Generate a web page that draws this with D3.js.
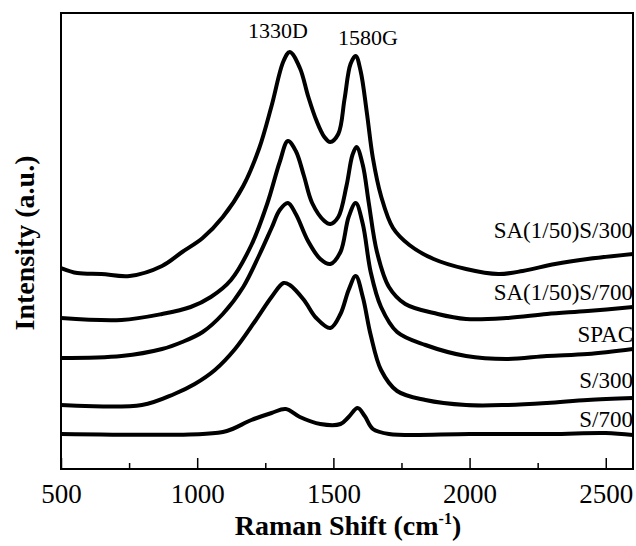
<!DOCTYPE html>
<html>
<head>
<meta charset="utf-8">
<script src="https://cdn.jsdelivr.net/npm/d3@7"></script>
<style>
  html, body { margin: 0; padding: 0; background: #fff; }
  svg { display: block; }
  text { font-family: "Liberation Serif", "Times New Roman", "DejaVu Serif", serif; fill: #000; }
</style>
</head>
<body>
<svg id="chart" width="636" height="546"></svg>
<script>
// ---- data (Raman shift in cm-1, intensity in a.u.) ----
const seriesNames = ["SA(1/50)S/300", "SA(1/50)S/700", "SPAC", "S/300", "S/700"];

const sa300 = [[500,201],[560,196],[648,195],[752,193],[871,203],[945,217],[1020,231],[1094,252],[1169,283],[1228,321],[1273,363],[1317,408],[1340,417],[1377,401],[1407,373],[1437,349],[1467,332],[1488,327],[1518,335],[1541,370],[1563,405],[1582,413],[1600,398],[1623,356],[1645,311],[1675,273],[1719,241],[1779,224],[1868,210],[1987,200],[2106,195],[2195,198],[2314,205],[2433,210],[2600,215]];
const sa700 = [[500,151],[722,149],[871,155],[976,162],[1050,172],[1124,189],[1199,224],[1258,266],[1303,307],[1333,328],[1362,318],[1392,293],[1422,266],[1467,248],[1489,245],[1518,252],[1548,283],[1570,314],[1585,322],[1608,304],[1630,266],[1660,217],[1704,182],[1764,165],[1883,155],[1987,150],[2136,151],[2284,155],[2433,158],[2600,162]];
const spac = [[500,111],[722,113],[871,120],[945,127],[1020,137],[1094,155],[1169,182],[1228,214],[1273,241],[1303,259],[1333,266],[1362,255],[1407,228],[1452,210],[1489,205],[1526,217],[1556,252],[1582,266],[1608,245],[1637,197],[1675,162],[1734,137],[1838,124],[1987,113],[2136,110],[2284,113],[2433,115],[2600,120]];
const s300 = [[500,64],[797,64],[916,75],[991,85],[1065,99],[1139,120],[1213,148],[1273,172],[1317,186],[1340,184],[1392,169],[1437,151],[1489,141],[1526,155],[1556,179],[1582,193],[1608,172],[1637,134],[1675,99],[1734,78],[1838,69],[1987,64],[2136,64],[2284,66],[2433,69],[2600,71]];
const s700 = [[500,35],[1020,35],[1109,38],[1199,49],[1273,56],[1325,60],[1377,52],[1452,45],[1526,45],[1556,52],[1589,61],[1615,53],[1645,40],[1704,35],[2000,35],[2300,35],[2500,36],[2600,34]];

const seriesData = [sa300, sa700, spac, s300, s700];
const majorTicks = [500, 1000, 1500, 2000, 2500];
const minorTicks = [750, 1250, 1750, 2250];
const peakLabels = ["1330D", "1580G"];

// ---- layout ----
const FONT = "'Liberation Serif', 'Times New Roman', 'DejaVu Serif', serif";
const svg = d3.select("#chart").attr("font-family", FONT);
const mLeft = 61, mRight = 633, mTop = 13, mBottom = 469;

const x = d3.scaleLinear().domain([500, 2600]).range([mLeft, mRight]);
const y = d3.scaleLinear().domain([0, 456]).range([mBottom, mTop]);

svg.append("defs").append("clipPath").attr("id", "clip")
  .append("rect").attr("x", mLeft).attr("y", mTop)
  .attr("width", mRight - mLeft).attr("height", mBottom - mTop);

// curves
const line = d3.line().x(d => x(d[0])).y(d => y(d[1])).curve(d3.curveCatmullRom.alpha(0.5));
svg.append("g").attr("clip-path", "url(#clip)")
  .selectAll("path").data(seriesData).join("path")
  .attr("d", line)
  .attr("fill", "none")
  .attr("stroke", "#000")
  .attr("stroke-width", 4)
  .attr("stroke-linejoin", "round");

// bottom axis, inward ticks
const axMajor = svg.append("g").attr("transform", `translate(0,${mBottom})`)
  .call(d3.axisBottom(x).tickValues(majorTicks).tickSize(-11).tickFormat(d3.format("d")));
axMajor.attr("font-family", FONT);
axMajor.select(".domain").remove();
axMajor.selectAll(".tick line").attr("stroke", "#000").attr("stroke-width", 1.5);
axMajor.selectAll(".tick text")
  .attr("y", 34).attr("dy", 0)
  .attr("font-family", FONT)
  .style("font-size", "27px");

const axMinor = svg.append("g").attr("transform", `translate(0,${mBottom})`)
  .call(d3.axisBottom(x).tickValues(minorTicks).tickSize(-6).tickFormat(""));
axMinor.select(".domain").remove();
axMinor.selectAll(".tick line").attr("stroke", "#000").attr("stroke-width", 1.5);

// frame
svg.append("rect")
  .attr("x", mLeft).attr("y", mTop)
  .attr("width", mRight - mLeft).attr("height", mBottom - mTop)
  .attr("fill", "none").attr("stroke", "#000").attr("stroke-width", 2);

// series labels (right aligned)
const labelLevels = [231, 169, 127, 81, 42];
svg.append("g").selectAll("text").data(seriesNames).join("text")
  .attr("x", 633)
  .attr("y", (d, i) => y(labelLevels[i]))
  .attr("text-anchor", "end")
  .style("font-size", "23px")
  .text(d => d);

// peak labels
const peakX = [278, 368], peakY = [38, 45];
svg.append("g").selectAll("text").data(peakLabels).join("text")
  .attr("x", (d, i) => peakX[i])
  .attr("y", (d, i) => peakY[i])
  .attr("text-anchor", "middle")
  .style("font-size", "22px")
  .text(d => d);

// axis titles
const xt = svg.append("text")
  .attr("x", 348).attr("y", 535)
  .attr("text-anchor", "middle")
  .style("font-size", "28px").style("font-weight", "bold");
xt.append("tspan").text("Raman Shift (cm");
xt.append("tspan").attr("dy", -11).style("font-size", "16px").text("-1");
xt.append("tspan").attr("dy", 11).text(")");

svg.append("text")
  .attr("transform", "translate(34,243) rotate(-90)")
  .attr("text-anchor", "middle")
  .style("font-size", "28px").style("font-weight", "bold")
  .text("Intensity (a.u.)");
</script>
</body>
</html>
